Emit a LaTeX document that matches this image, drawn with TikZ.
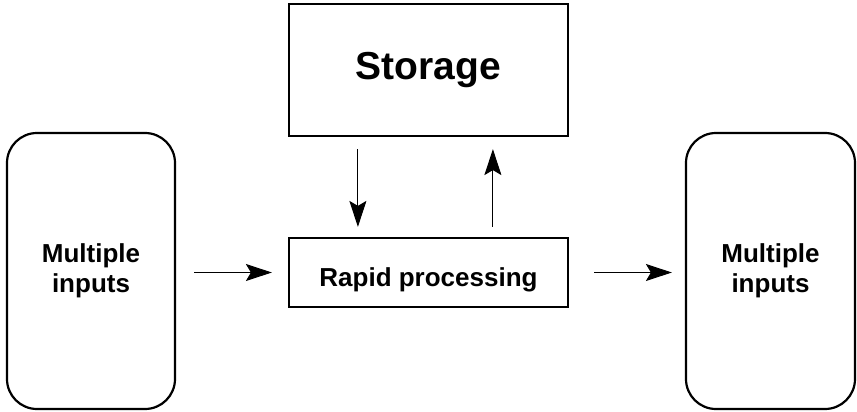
\documentclass[tikz,border=0pt]{standalone}
\usepackage{fontspec}
\setmainfont{Liberation Sans}
\usetikzlibrary{arrows.meta}

\begin{document}
\begin{tikzpicture}[x=1pt, y=-1pt,
    box/.style={draw, line width=2.2pt, align=center, inner sep=0pt,
        font=\bfseries\fontsize{26}{30}\selectfont},
    flow/.style={-{Stealth[length=26pt, width=17pt, inset=5pt]}, line width=1pt}]
    \useasboundingbox (0,0) rectangle (857,412);

    % Side boxes
    \node[box, rounded corners=30pt, minimum width=168pt, minimum height=276pt] (inL) at (91,271) {Multiple\\inputs};
    \node[box, rounded corners=30pt, minimum width=169pt, minimum height=276pt] (inR) at (770.5,271) {Multiple\\inputs};

    % Centre boxes
    \node[box, minimum width=279pt, minimum height=132pt, font=\bfseries\fontsize{39}{44}\selectfont] (store) at (428.5,70) {Storage};
    \node[box, minimum width=279pt, minimum height=69pt, text height=27pt, text depth=0pt] (proc) at (428.5,272.5) {Rapid processing};

    % Flow in and out
    \draw[flow, shorten <=18pt, shorten >=16pt] (inL.east |- proc.west) -- (proc.west);
    \draw[flow, shorten <=25pt, shorten >=13pt] (proc.east) -- (inR.west |- proc.east);

    % Exchange with storage
    \coordinate (dnTop) at ([xshift=70pt]store.south west);
    \coordinate (upTop) at ([xshift=205pt]store.south west);
    \draw[flow, shorten <=12pt, shorten >=10pt] (dnTop) -- (dnTop |- proc.north);
    \draw[flow, shorten <=10pt, shorten >=12pt] (upTop |- proc.north) -- (upTop);
\end{tikzpicture}
\end{document}
